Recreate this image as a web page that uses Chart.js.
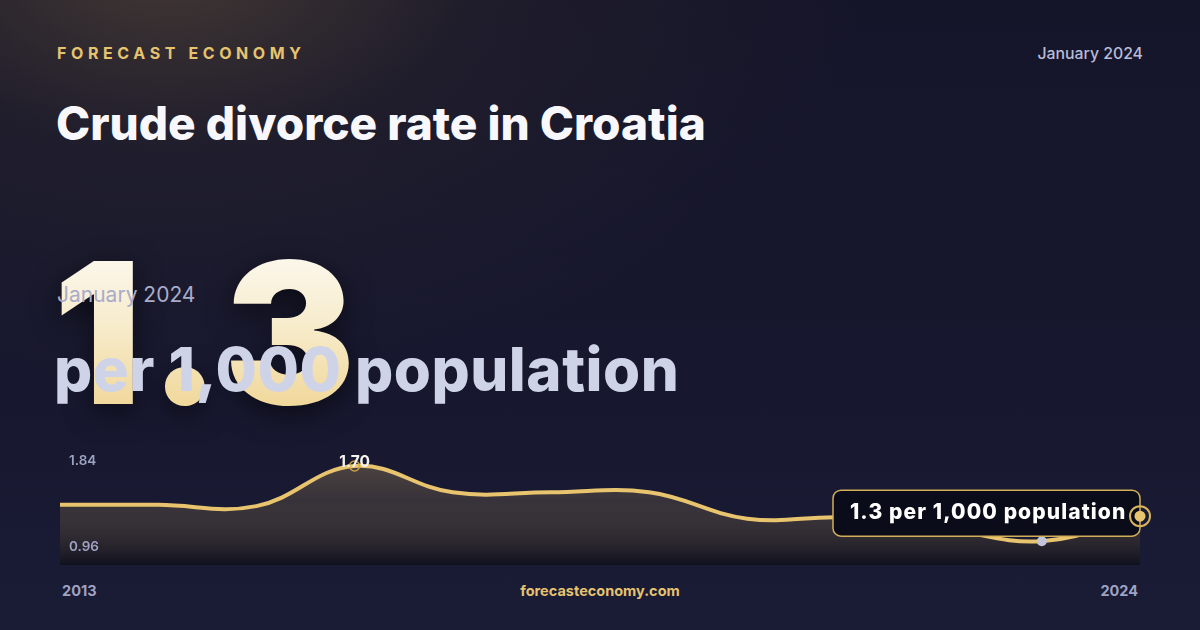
<!DOCTYPE html>
<html>
<head>
<meta charset="utf-8">
<script src="https://cdn.jsdelivr.net/npm/chart.js@4.4.1/dist/chart.umd.min.js"></script>
<style>
  html, body { margin:0; padding:0; }
  body { width:1200px; height:630px; overflow:hidden; position:relative;
    background:
      radial-gradient(ellipse 700px 420px at 170px -40px, rgba(105,85,60,0.55) 0%, rgba(60,50,45,0.25) 45%, rgba(0,0,0,0) 100%),
      linear-gradient(180deg, #15152a 0%, #17182f 60%, #1a1b35 100%);
    font-family: Inter, "Noto Sans", sans-serif; }
  .t { position:absolute; white-space:nowrap; line-height:1; }
  #brand { left:57px; top:45px; font-size:16px; font-weight:700; letter-spacing:4.6px; color:#e6c36f; }
  #date { right:57px; top:46px; font-size:15.8px; font-weight:500; color:#b9bcd6; }
  #title { left:56px; top:100px; font-size:46px; font-weight:800; color:#f8f8fc; letter-spacing:0px; }
  #big { left:53px; top:234px; font-size:197px; font-weight:900; letter-spacing:6px;
    background: linear-gradient(180deg, #fdfbf6 0%, #f7eccd 45%, #efd28c 100%);
    -webkit-background-clip:text; background-clip:text; color:transparent;
    filter: drop-shadow(0 8px 14px rgba(0,0,0,0.55)); }
  #bigdate { left:57px; top:284px; font-size:21px; font-weight:400; color:#a9acc9; }
  #unit { left:54px; top:339px; font-size:60px; font-weight:800; color:#cfd3e7; letter-spacing:0.5px; }
  #chartbox { position:absolute; left:40px; top:430px; width:1120px; height:140px; }
  #x0 { left:62px; top:584px; font-size:14.5px; font-weight:700; color:#9fa3c3; }
  #x1 { right:62px; top:584px; font-size:14.5px; font-weight:700; color:#9fa3c3; }
  #site { left:0; width:1200px; text-align:center; top:584px; font-size:14.5px; font-weight:700; color:#e6c36f; }
</style>
</head>
<body>
<div class="t" id="brand">FORECAST ECONOMY</div>
<div class="t" id="date">January 2024</div>
<div class="t" id="title">Crude divorce rate in Croatia</div>
<div class="t" id="big">1.3</div>
<div class="t" id="bigdate">January 2024</div>
<div class="t" id="unit">per 1,000 population</div>
<div id="chartbox"><canvas id="c"></canvas></div>
<div class="t" id="x0"></div>
<div class="t" id="x1"></div>
<div class="t" id="site">forecasteconomy.com</div>
<script>
// ---- data ----
const years = ['2013','2014','2015','2016','2017','2018','2019','2020','2021','2022','2023','2024'];
const rates = [1.39, 1.39, 1.38, 1.70, 1.49, 1.49, 1.49, 1.28, 1.29, 1.20, 1.10, 1.30];
const yTickLabels = ['1.84', '0.96'];
const yBounds = [0.91, 1.84];
const peakLabel = '1.70';
const calloutText = '1.3 per 1,000 population';

document.getElementById('x0').textContent = years[0];
document.getElementById('x1').textContent = years[years.length - 1];

const GOLD = '#e8c46e';

const overlay = {
  id: 'overlay',
  afterDatasetsDraw(chart) {
    const ctx = chart.ctx;
    const meta = chart.getDatasetMeta(0);
    const ys = chart.scales.y;
    const pts = meta.data;
    const ca = chart.chartArea;
    ctx.save();
    // y labels
    ctx.font = '600 13.5px Inter, sans-serif';
    ctx.fillStyle = '#9ea2c2';
    ctx.textBaseline = 'middle';
    ctx.textAlign = 'left';
    ctx.fillText(yTickLabels[0], ca.left + 9, ys.getPixelForValue(parseFloat(yTickLabels[0])) + 12.5);
    ctx.fillText(yTickLabels[1], ca.left + 9, ys.getPixelForValue(parseFloat(yTickLabels[1])) - 11.5);

    // peak marker
    let iMax = 0, iMin = 0;
    rates.forEach((v, i) => { if (v > rates[iMax]) iMax = i; if (v < rates[iMin]) iMin = i; });
    const pk = pts[iMax];
    ctx.beginPath();
    ctx.arc(pk.x, pk.y, 5, 0, Math.PI * 2);
    ctx.strokeStyle = 'rgba(214,170,70,0.9)';
    ctx.lineWidth = 1.5;
    ctx.stroke();
    ctx.font = '700 15.5px Inter, sans-serif';
    ctx.fillStyle = '#f4f2ee';
    ctx.textAlign = 'center';
    ctx.fillText(peakLabel, pk.x, pk.y - 4);

    // min marker
    const mn = pts[iMin];
    ctx.beginPath();
    ctx.arc(mn.x, mn.y, 5, 0, Math.PI * 2);
    ctx.fillStyle = '#c3c6db';
    ctx.fill();

    // callout
    const last = pts[pts.length - 1];
    const bw = 307, bh = 46;
    const bx = last.x - bw, by = last.y - bh / 2 - 3;
    ctx.beginPath();
    ctx.roundRect(bx, by, bw, bh, 8);
    ctx.fillStyle = '#0b0c19';
    ctx.fill();
    ctx.strokeStyle = '#d2ae58';
    ctx.lineWidth = 1.5;
    ctx.stroke();
    ctx.font = '800 21px Inter, sans-serif';
    ctx.letterSpacing = '1.1px';
    ctx.fillStyle = '#ffffff';
    ctx.textAlign = 'left';
    ctx.textBaseline = 'alphabetic';
    ctx.fillText(calloutText, bx + 17, by + bh / 2 + 6);
    ctx.letterSpacing = '0px';

    // end marker
    ctx.beginPath();
    ctx.arc(last.x, last.y, 10, 0, Math.PI * 2);
    ctx.strokeStyle = '#d8b45c';
    ctx.lineWidth = 2;
    ctx.stroke();
    ctx.beginPath();
    ctx.arc(last.x, last.y, 5.5, 0, Math.PI * 2);
    ctx.fillStyle = GOLD;
    ctx.fill();
    ctx.restore();
  }
};

new Chart(document.getElementById('c'), {
  type: 'line',
  data: {
    labels: years,
    datasets: [{
      data: rates,
      borderColor: GOLD,
      borderWidth: 4,
      tension: 0.4,
      pointRadius: 0,
      clip: false,
      fill: 'start',
      backgroundColor(context) {
        const ca = context.chart.chartArea;
        if (!ca) return 'rgba(0,0,0,0)';
        const g = context.chart.ctx.createLinearGradient(0, ca.top, 0, ca.bottom);
        g.addColorStop(0, 'rgba(232,196,110,0.30)');
        g.addColorStop(0.45, 'rgba(150,125,85,0.25)');
        g.addColorStop(1, 'rgba(12,12,20,0.65)');
        return g;
      }
    }]
  },
  options: {
    responsive: true,
    maintainAspectRatio: false,
    animation: false,
    layout: { padding: { left: 20, right: 20, top: 18.5, bottom: 5 } },
    plugins: { legend: { display: false }, tooltip: { enabled: false } },
    scales: {
      x: { display: false, offset: false },
      y: { display: false, min: yBounds[0], max: yBounds[1] }
    }
  },
  plugins: [overlay]
});
</script>
</body>
</html>
